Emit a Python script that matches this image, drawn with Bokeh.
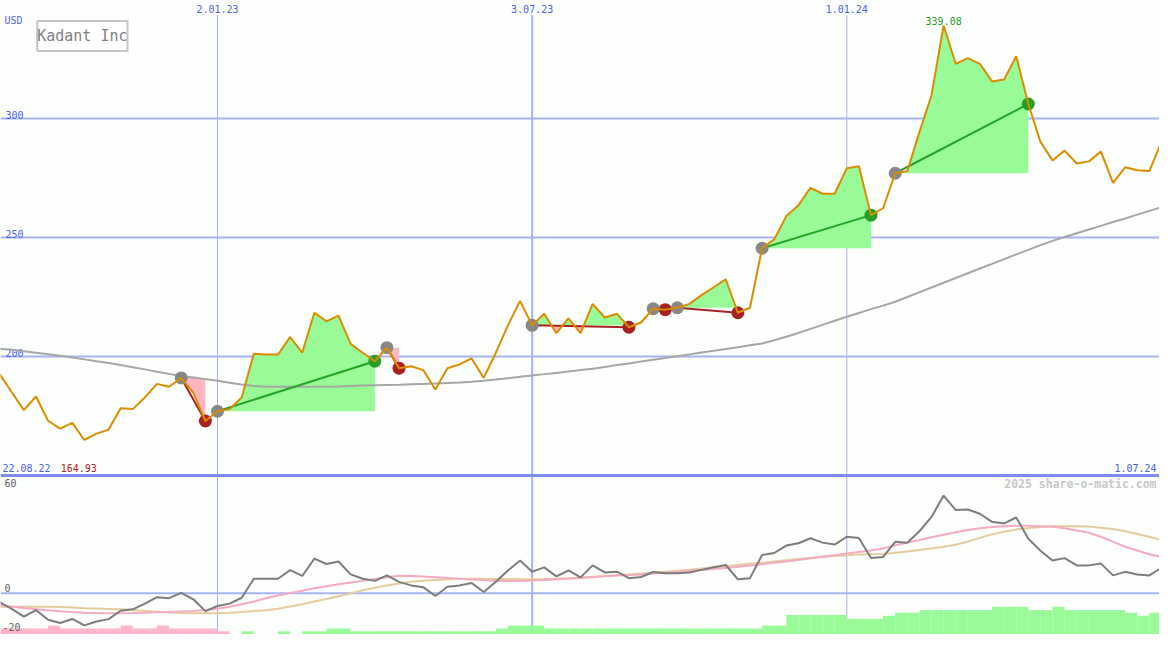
import numpy as np
import pandas as pd
from bokeh.plotting import figure
from bokeh.models import Range1d, Label
from bokeh.core.properties import value
from bokeh.embed import file_html
from bokeh.resources import INLINE

# ---------------- data ----------------
first_week = "2022-08-29"
n_weeks = 97
title = "Kadant Inc"
currency = "USD"

price = [
    192.6, 185.0, 177.5, 183.2, 173.0, 169.7, 172.1, 164.93, 167.6, 169.3,
    178.3, 177.9, 182.8, 188.5, 187.3, 191.0, 184.8, 172.9, 177.0, 177.9,
    182.8, 201.2, 200.8, 200.8, 208.2, 201.6, 218.4, 214.8, 217.2, 205.3,
    201.6, 198.0, 203.7, 195.1, 195.9, 194.3, 186.1, 195.1, 196.7, 199.2,
    191.0, 201.6, 213.1, 223.4, 213.1, 218.0, 209.8, 216.0, 209.8, 222.1,
    216.4, 218.0, 212.3, 214.3, 220.1, 219.7, 220.5, 222.1, 225.8, 229.1,
    232.4, 218.4, 220.5, 245.5, 249.2, 259.0, 263.5, 270.9, 268.4, 268.4,
    279.1, 279.9, 259.4, 262.3, 277.0, 277.9, 294.3, 309.8, 339.08, 323.0,
    325.4, 323.0, 315.6, 316.4, 326.2, 306.1, 290.2, 282.4, 286.5, 281.1,
    282.0, 286.1, 273.0, 279.5, 278.3, 277.9, 290.2,
]
moving_avg = [
    203.3, 202.8, 202.2, 201.6, 201.0, 200.3, 199.6, 198.8, 198.0, 197.3,
    196.4, 195.5, 194.6, 193.6, 192.7, 191.8, 191.2, 190.5, 189.8, 189.0,
    188.2, 187.6, 187.3, 187.3, 187.3, 187.3, 187.3, 187.3, 187.4, 187.6,
    187.8, 187.9, 188.0, 188.1, 188.3, 188.5, 188.7, 188.9, 189.1, 189.4,
    189.8, 190.3, 190.9, 191.5, 192.0, 192.6, 193.1, 193.7, 194.3, 194.9,
    195.6, 196.4, 197.1, 197.9, 198.6, 199.4, 200.1, 200.9, 201.7, 202.4,
    203.2, 203.9, 204.7, 205.5, 206.8, 208.3, 209.9, 211.6, 213.3, 215.0,
    216.7, 218.3, 219.9, 221.4, 223.0, 225.0, 227.0, 229.0, 231.0, 233.0,
    235.0, 237.0, 238.9, 240.9, 242.9, 244.8, 246.8, 248.6, 250.2, 251.8,
    253.4, 254.9, 256.5, 258.0, 259.6, 261.2, 262.7,
]
oscillator = [
    -4.5, -8.0, -11.9, -8.6, -13.5, -15.2, -13.1, -16.4, -14.4, -13.2,
    -8.9, -8.2, -5.3, -2.0, -2.5, 0.2, -3.1, -9.1, -6.5, -5.3,
    -2.3, 7.4, 7.4, 7.4, 11.8, 8.8, 17.6, 14.9, 16.2, 9.6,
    7.4, 6.3, 9.1, 5.8, 4.0, 3.1, -1.4, 3.3, 4.0, 5.2,
    0.6, 5.9, 11.6, 16.7, 11.0, 13.2, 8.6, 11.6, 8.1, 14.2,
    10.6, 11.0, 7.7, 8.3, 10.8, 10.2, 10.2, 10.6, 11.9, 13.2,
    14.4, 7.1, 7.7, 19.5, 20.5, 24.3, 25.5, 28.0, 25.8, 24.8,
    28.8, 28.2, 18.0, 18.5, 26.2, 25.7, 31.6, 38.9, 49.8, 42.4,
    42.7, 40.5, 36.4, 35.6, 38.6, 27.8, 21.7, 16.7, 17.9, 14.2,
    14.2, 15.1, 9.1, 10.9, 9.6, 9.1, 12.9,
]
osc_fast = [
    -6.1, -6.8, -7.5, -8.1, -8.7, -9.2, -9.6, -9.9, -10.1, -10.2,
    -10.2, -10.1, -9.9, -9.7, -9.5, -9.3, -9.1, -8.6, -7.9, -6.9,
    -5.6, -4.2, -2.6, -1.2, 0.1, 1.3, 2.6, 3.6, 4.6, 5.5,
    6.3, 7.2, 8.1, 8.9, 8.8, 8.5, 8.2, 7.8, 7.4, 7.0,
    6.7, 6.4, 6.3, 6.3, 6.5, 6.8, 7.1, 7.4, 7.8, 8.2,
    8.6, 9.0, 9.3, 9.6, 10.0, 10.4, 10.8, 11.3, 11.8, 12.3,
    12.9, 13.5, 14.1, 14.8, 15.5, 16.2, 17.0, 17.8, 18.6, 19.4,
    20.2, 21.0, 21.8, 22.8, 24.5, 25.8, 27.1, 28.5, 29.8, 31.1,
    32.2, 33.1, 33.7, 34.1, 34.4, 34.4, 34.2, 33.9, 33.1, 32.0,
    30.8, 28.8, 26.3, 23.7, 21.8, 19.9, 18.5,
]
osc_slow = [
    -6.9, -6.9, -6.9, -6.9, -6.9, -7.0, -7.3, -7.6, -7.8, -8.0,
    -8.2, -8.6, -9.0, -9.4, -9.8, -10.1, -10.2, -10.2, -10.2, -10.0,
    -9.6, -9.1, -8.7, -7.9, -6.8, -5.6, -4.2, -2.9, -1.5, 0.0,
    1.5, 2.8, 4.0, 5.0, 5.8, 6.4, 6.8, 7.1, 7.3, 7.4,
    7.4, 7.3, 7.2, 7.1, 7.1, 7.2, 7.4, 7.7, 8.0, 8.4,
    8.8, 9.2, 9.6, 10.0, 10.5, 11.0, 11.5, 12.0, 12.6, 13.2,
    13.8, 14.4, 15.0, 15.6, 16.2, 16.8, 17.4, 18.0, 18.6, 19.0,
    19.4, 19.7, 19.9, 20.0, 20.6, 21.3, 22.0, 22.8, 23.7, 24.7,
    26.3, 28.2, 30.0, 31.3, 32.5, 33.2, 33.7, 34.1, 34.2, 34.2,
    34.0, 33.4, 32.7, 31.6, 30.2, 28.8, 27.0,
]
histogram = [
    -4.0, -4.0, -4.0, -4.0, -5.5, -4.0, -4.0, -4.0, -4.0, -4.0,
    -5.5, -4.0, -4.0, -5.5, -4.0, -4.0, -4.0, -4.0, -2.6, 0.0,
    2.6, 0.0, 0.0, 2.6, 0.0, 2.6, 2.6, 4.0, 4.0, 2.6,
    2.6, 2.6, 2.6, 2.6, 2.6, 2.6, 2.6, 2.6, 2.6, 2.6,
    2.6, 4.0, 5.5, 5.5, 5.5, 4.0, 4.0, 4.0, 4.0, 4.0,
    4.0, 4.0, 4.0, 4.0, 4.0, 4.0, 4.0, 4.0, 4.0, 4.0,
    4.0, 4.0, 4.0, 5.5, 5.5, 10.9, 10.9, 10.9, 10.9, 10.9,
    8.9, 8.9, 8.9, 10.5, 12.1, 12.1, 13.4, 13.4, 13.4, 13.4,
    13.4, 13.4, 15.1, 15.1, 15.1, 13.4, 13.4, 15.1, 13.4, 13.4,
    13.4, 13.4, 13.4, 12.1, 10.5, 12.1, 12.1,
]
trade_entry = ["2022-12-12", "2023-01-02", "2023-04-10", "2023-07-03",
               "2023-09-11", "2023-09-25", "2023-11-13", "2024-01-29"]
trade_exit = ["2022-12-26", "2023-04-03", "2023-04-17", "2023-08-28",
              "2023-09-18", "2023-10-30", "2024-01-15", "2024-04-15"]

price_ticks = [200, 250, 300]
osc_ticks = [60, 0, -20]
date_lines = ["2023-01-02", "2023-07-03", "2024-01-01"]
date_labels = ["2.01.23", "3.07.23", "1.01.24"]
first_label = "22.08.22"
last_label = "1.07.24"
high_label = "339.08"
low_label = "164.93"
credit = "2025 share-o-matic.com"

# ---------------- helpers ----------------
DAY = 86400000.0
dates = pd.date_range(first_week, periods=n_weeks, freq="7D")
xs = np.array([d.value / 1e6 for d in dates])
ref0 = pd.Timestamp("2023-01-02").value / 1e6

def ms(d):
    return pd.Timestamp(d).value / 1e6

# reference pixel -> data coordinate (for placing text)
def PX(px):
    return ref0 + (px - 220) / 1.7527 * DAY

def PY(py):
    return 200 + (365 - py) / 2.44

def OY(py):
    return (607.7 - py) / 2.0117

BG = "#fcfffc"
BLUE_TXT = "#4c5ef2"
FONT = value("DejaVu Sans Mono")

p = figure(width=1159, height=634, x_axis_type="datetime",
           x_range=Range1d(PX(0), PX(1175)), y_range=Range1d(PY(650), PY(0)),
           output_backend="svg", toolbar_location=None, min_border=0,
           background_fill_color=BG, border_fill_color=BG)
p.extra_y_ranges = {"osc": Range1d(OY(650), OY(0))}
p.axis.visible = False
p.grid.visible = False
p.outline_line_color = None

# ---------------- grid ----------------
for d, lab in zip(date_lines, date_labels):
    mid = d.endswith("07-03")
    p.segment(x0=[ms(d)], y0=[PY(15)], x1=[ms(d)], y1=[PY(650)],
              line_color="#a4b2f2" if mid else "#aab0e0", line_width=2 if mid else 1)
    p.text(x=[ms(d)], y=[PY(9)], text=[lab], text_align="center", text_baseline="middle",
           text_color=BLUE_TXT, text_font=FONT, text_font_size="10px")

for t in price_ticks:
    p.segment(x0=[PX(0)], y0=[t], x1=[PX(1175)], y1=[t], line_color="#a6b4f2", line_width=2)
    p.text(x=[PX(5)], y=[t], text=[str(t)], text_align="left", text_baseline="bottom",
           text_color=BLUE_TXT, text_font=FONT, text_font_size="10px")

p.segment(x0=[PX(0)], y0=[0], x1=[PX(1175)], y1=[0], line_color="#a6b4f2", line_width=2,
          y_range_name="osc")
# panel separator
p.segment(x0=[PX(0)], y0=[PY(487)], x1=[PX(1175)], y1=[PY(487)], line_color="#7b8ef0",
          line_width=3)

# ---------------- trade fills ----------------
date_idx = {pd.Timestamp(d): i for i, d in enumerate(dates)}

def with_crossings(xv, pv, lvl):
    X, P = [xv[0]], [pv[0]]
    for i in range(1, len(xv)):
        p0, p1 = pv[i - 1], pv[i]
        if (p0 - lvl) * (p1 - lvl) < 0:
            t = (lvl - p0) / (p1 - p0)
            X.append(xv[i - 1] + t * (xv[i] - xv[i - 1]))
            P.append(lvl)
        X.append(xv[i])
        P.append(pv[i])
    return np.array(X), np.array(P)

trades = []
for e, x in zip(trade_entry, trade_exit):
    a, b = date_idx[pd.Timestamp(e)], date_idx[pd.Timestamp(x)]
    trades.append((a, b))
    lvl = price[a]
    X, P = with_crossings(xs[a:b + 1], price[a:b + 1], lvl)
    p.varea(x=X, y1=np.full(len(X), lvl), y2=np.maximum(P, lvl), fill_color="#98fb98")
    p.varea(x=X, y1=np.minimum(P, lvl), y2=np.full(len(X), lvl), fill_color="#ffb6c1")

# ---------------- moving average ----------------
p.line(xs, moving_avg, line_color="#a6a6a6", line_width=2)

# ---------------- lower panel ----------------
hist = np.array(histogram)
base = -22.0
p.vbar(x=xs + 3.5 * DAY, width=7 * DAY, bottom=base, top=base + np.abs(hist),
       fill_color=["#98fb98" if h > 0 else "#ffb6c8" for h in hist],
       line_color=None, y_range_name="osc")
p.line(xs, osc_slow, line_color="#e4cc9c", line_width=2, y_range_name="osc")
p.line(xs, osc_fast, line_color="#f6aac2", line_width=2, y_range_name="osc")
p.line(xs, oscillator, line_color="#7c7c7c", line_width=2, y_range_name="osc")

# ---------------- trades ----------------
for a, b in trades:
    win = price[b] > price[a]
    p.segment(x0=[xs[a]], y0=[price[a]], x1=[xs[b]], y1=[price[b]],
              line_color="#26a326" if win else "#a82222", line_width=2)
for a, b in trades:
    win = price[b] > price[a]
    p.scatter([xs[a]], [price[a]], size=13, fill_color="#888888", line_color=None)
    p.scatter([xs[b]], [price[b]], size=13, fill_color="#24a024" if win else "#a82020",
              line_color=None)

# ---------------- price ----------------
p.line(xs, price, line_color="#dc8c00", line_width=2)

# ---------------- texts ----------------
def txt(px, y, s, color, align="left", size="10px", style="normal", yr="default"):
    p.text(x=[PX(px)], y=[y], text=[s], text_align=align, text_baseline="middle",
           text_color=color, text_font=FONT, text_font_size=size, text_font_style=style,
           y_range_name=yr)

txt(4, PY(20), currency, BLUE_TXT)
txt(2, PY(479), first_label, BLUE_TXT)
txt(61, PY(479), low_label, "#b02020")
txt(1172, PY(479), last_label, BLUE_TXT, align="right")
i_hi = int(np.argmax(price))
p.text(x=[xs[i_hi]], y=[PY(21)], text=[high_label], text_align="center",
       text_baseline="middle", text_color="#22a022", text_font=FONT, text_font_size="10px")
txt(1172, PY(496), credit, "#c8c8c8", align="right", size="11.5px", style="bold")
for t, py in zip(osc_ticks, [495, 602, 642]):
    txt(4 if t >= 0 else 2, PY(py), str(t), "#606060")

p.add_layout(Label(x=PX(83), y=PY(36.5), text=title, text_align="center",
                   text_baseline="middle", text_font="DejaVu Sans Mono",
                   text_font_size="15px", text_color="#808080",
                   border_line_color="#c4c4c4", border_line_width=2,
                   background_fill_color="#ffffff", padding=(0, 6)))

open("out.html", "w").write(file_html(p, INLINE))
